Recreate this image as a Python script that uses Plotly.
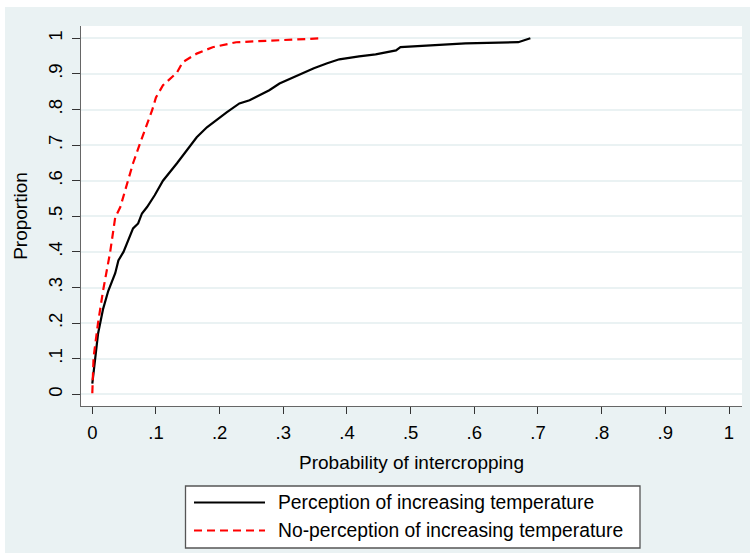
import plotly.graph_objects as go

# ---- data ----
perc_x = [0.000, 0.002, 0.005, 0.009, 0.017, 0.025, 0.036, 0.041, 0.049, 0.056,
          0.064, 0.072, 0.078, 0.086, 0.098, 0.111, 0.133, 0.164, 0.180, 0.211,
          0.231, 0.247, 0.278, 0.294, 0.322, 0.348, 0.369, 0.388, 0.419, 0.445,
          0.477, 0.484, 0.586, 0.669, 0.688]
perc_y = [0.030, 0.060, 0.120, 0.170, 0.240, 0.290, 0.340, 0.376, 0.400, 0.433,
          0.466, 0.480, 0.508, 0.526, 0.559, 0.600, 0.649, 0.722, 0.750, 0.792,
          0.817, 0.826, 0.854, 0.873, 0.896, 0.916, 0.930, 0.941, 0.949, 0.955,
          0.966, 0.975, 0.986, 0.989, 1.000]

noperc_x = [0.000, 0.002, 0.009, 0.017, 0.028, 0.036, 0.044, 0.055, 0.064, 0.075,
            0.083, 0.094, 0.100, 0.111, 0.133, 0.142, 0.164, 0.189, 0.226, 0.294,
            0.360]
noperc_y = [0.003, 0.104, 0.200, 0.292, 0.399, 0.497, 0.526, 0.597, 0.649, 0.705,
            0.742, 0.798, 0.834, 0.868, 0.904, 0.933, 0.957, 0.975, 0.989, 0.994,
            1.000]

tick_vals = [0, 0.1, 0.2, 0.3, 0.4, 0.5, 0.6, 0.7, 0.8, 0.9, 1]
tick_text = ["0", ".1", ".2", ".3", ".4", ".5", ".6", ".7", ".8", ".9", "1"]

series_names = ["Perception of increasing temperature",
                "No-perception of increasing temperature"]

# ---- layout geometry ----
W, H = 750, 555
L, R, T, B = 81, 8, 26, 149
PW, PH = W - L - R, H - T - B
BG = "#EAF2F3"
FONT = "Liberation Sans, Arial, sans-serif"
TICK_FS = 18.5
TITLE_FS = 19
LEG_FS = 19.3


def px(xpix):
    return (xpix - L) / PW


def py(ypix):
    return (H - B - ypix) / PH


fig = go.Figure()
fig.add_trace(go.Scatter(x=perc_x, y=perc_y, mode="lines", name=series_names[0],
                         line=dict(color="black", width=2.2), showlegend=False))
fig.add_trace(go.Scatter(x=noperc_x, y=noperc_y, mode="lines", name=series_names[1],
                         line=dict(color="#FF0000", width=2.2, dash="8px,5px"),
                         showlegend=False))

shapes = [
    # white outer border strips
    dict(type="rect", xref="paper", yref="paper", x0=px(0), x1=px(W), y0=py(0), y1=py(7),
         fillcolor="white", line_width=0, layer="above"),
    dict(type="rect", xref="paper", yref="paper", x0=px(0), x1=px(5), y0=py(0), y1=py(H),
         fillcolor="white", line_width=0, layer="above"),
    dict(type="rect", xref="paper", yref="paper", x0=px(0), x1=px(W), y0=py(553), y1=py(H),
         fillcolor="white", line_width=0, layer="above"),
    # legend box
    dict(type="rect", xref="paper", yref="paper", x0=px(185.5), x1=px(640), y0=py(548), y1=py(486),
         fillcolor="white", line=dict(color="#555555", width=1.3), layer="above"),
    dict(type="line", xref="paper", yref="paper", x0=px(194), x1=px(265), y0=py(502.5), y1=py(502.5),
         line=dict(color="black", width=2.2), layer="above"),
    dict(type="line", xref="paper", yref="paper", x0=px(194), x1=px(265), y0=py(530.5), y1=py(530.5),
         line=dict(color="#FF0000", width=2.2, dash="8px,5px"), layer="above"),
]

annotations = [
    dict(xref="paper", yref="paper", x=px(276), y=py(502.5), text=series_names[0],
         showarrow=False, xanchor="left", yanchor="middle", font=dict(size=LEG_FS, color="black")),
    dict(xref="paper", yref="paper", x=px(276), y=py(530.5), text=series_names[1],
         showarrow=False, xanchor="left", yanchor="middle", font=dict(size=LEG_FS, color="black")),
]

fig.update_layout(
    width=W, height=H,
    margin=dict(l=L, r=R, t=T, b=B, pad=0),
    paper_bgcolor=BG, plot_bgcolor="white",
    font=dict(family=FONT, size=TICK_FS, color="black"),
    shapes=shapes, annotations=annotations,
    showlegend=False,
    xaxis=dict(
        range=[(L - 92.3) / 636.7, (W - R - 92.3) / 636.7],
        tickvals=tick_vals, ticktext=tick_text,
        tickfont=dict(size=TICK_FS),
        ticks="outside", ticklen=7, tickwidth=1.2, tickcolor="#333333",
        showgrid=False, zeroline=False,
        showline=True, linecolor="#666666", linewidth=1.2,
        title=dict(text="Probability of intercropping", standoff=13,
                   font=dict(size=TITLE_FS)),
        ticklabelstandoff=3,
    ),
    yaxis=dict(
        range=[(394.3 - (H - B)) / 356, (394.3 - T) / 356],
        tickvals=tick_vals, ticktext=tick_text, tickangle=-90,
        tickfont=dict(size=TICK_FS),
        ticks="outside", ticklen=8, tickwidth=1.2, tickcolor="#333333",
        showgrid=True, gridcolor=BG, gridwidth=1.5,
        zeroline=False,
        showline=True, linecolor="#666666", linewidth=1.2,
        title=dict(text="Proportion", standoff=11, font=dict(size=TITLE_FS)),
        ticklabelstandoff=3,
    ),
)

fig.write_html("out.html", config={"displayModeBar": False},
               post_script="document.body.style.margin='0px';")
